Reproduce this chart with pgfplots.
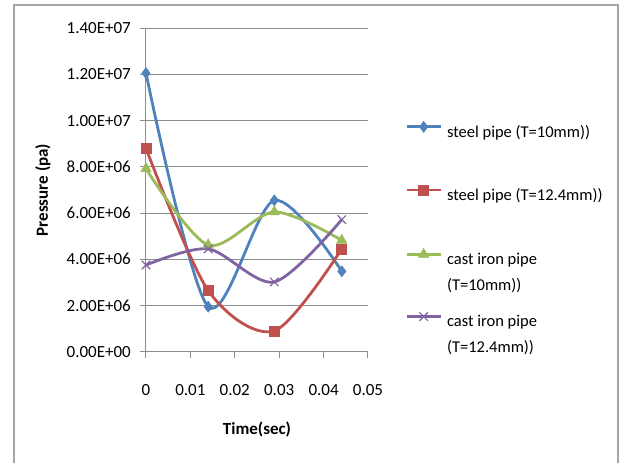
\documentclass[border=0pt]{standalone}
\usepackage{pgfplots}
\pgfplotsset{compat=1.18}
\usepackage{fontspec}
\setmainfont{Carlito}
\definecolor{s1}{HTML}{4F81BD}
\definecolor{s2}{HTML}{C0504D}
\definecolor{s3}{HTML}{9BBB59}
\definecolor{s4}{HTML}{8064A2}
\definecolor{gridc}{HTML}{8C8C8C}
\definecolor{framec}{HTML}{A6A6A6}
\newcommand{\lentA}[1]{\parbox[t]{170pt}{\fontsize{16.5}{25.5}\selectfont #1}}
\newcommand{\lentB}[2]{\parbox[t]{170pt}{\fontsize{16.5}{25.5}\selectfont #1\\#2}}
\begin{document}
\begin{tikzpicture}[x=1pt,y=1pt,font=\fontsize{17}{20}\selectfont]
\useasboundingbox (0,0) rectangle (625,463);
\draw[color=framec, line width=1.3pt] (14,-5) -- (14,458) -- (618,458) -- (618,-5);
\begin{axis}[
  at={(146pt,111.3pt)}, anchor=south west,
  scale only axis, width=222pt, height=323.4pt,
  xmin=0, xmax=0.05, ymin=0, ymax=14000000,
  axis lines*=left,
  axis line style={gridc, line width=1pt},
  ymajorgrids, grid style={gridc, line width=1.1pt},
  xtick={0,0.01,0.02,0.03,0.04,0.05},
  xticklabels={0,0.01,0.02,0.03,0.04,0.05},
  ytick={0,2000000,4000000,6000000,8000000,10000000,12000000,14000000},
  yticklabels={0.00E+00,2.00E+06,4.00E+06,6.00E+06,8.00E+06,1.00E+07,1.20E+07,1.40E+07},
  scaled y ticks=false, scaled x ticks=false,
  tick align=outside, major tick length=6pt,
  tick style={gridc, line width=1pt},
  xticklabel style={inner sep=0pt, anchor=center, yshift=-32pt},
  yticklabel style={inner sep=0pt, anchor=east, xshift=-9pt},
  ylabel={\bfseries Pressure (pa)},
  ylabel style={at={(axis description cs:-0.464,0.5)}, anchor=center, rotate=0},
  xlabel={\bfseries Time(sec)},
  xlabel style={at={(axis description cs:0.5,-0.239)}, anchor=center},
  clip=false,
  legend style={at={(axis description cs:1.167,0.713)}, anchor=north west,
    draw=none, fill=none, inner sep=0pt, row sep=46pt, column sep=5pt,
    nodes={inner sep=0pt}, cells={anchor=west}},
  legend cell align=left,
  legend image code/.code={\draw[#1, mark repeat=2, mark phase=2] plot coordinates {(0pt,5.5pt) (17pt,5.5pt) (34pt,5.5pt)};},
  every axis plot/.append style={line width=2.8pt, smooth},
]
\addplot[s1, mark=diamond*, mark size=5.5pt, mark options={solid, line width=0.6pt, fill=s1}]
  coordinates {(0,12060000) (0.014,1950000) (0.0289,6550000) (0.0441,3480000)};
\addlegendentry{\lentA{steel pipe (T=10mm))}}
\addplot[s2, mark=square*, mark size=5pt, mark options={solid, line width=0.6pt, fill=s2}]
  coordinates {(0,8800000) (0.014,2650000) (0.0289,900000) (0.0441,4450000)};
\addlegendentry{\lentA{steel pipe (T=12.4mm))}}
\addplot[s3, mark=triangle*, mark size=6pt, mark options={solid, line width=0.6pt, fill=s3}]
  coordinates {(0,7920000) (0.014,4620000) (0.0289,6050000) (0.0441,4820000)};
\addlegendentry{\lentB{cast iron pipe}{(T=10mm))}}
\addplot[s4, mark=x, mark size=6pt, mark options={solid, line width=1.2pt}]
  coordinates {(0,3750000) (0.014,4450000) (0.0289,3020000) (0.0441,5720000)};
\addlegendentry{\lentB{cast iron pipe}{(T=12.4mm))}}
\end{axis}
\end{tikzpicture}
\end{document}
